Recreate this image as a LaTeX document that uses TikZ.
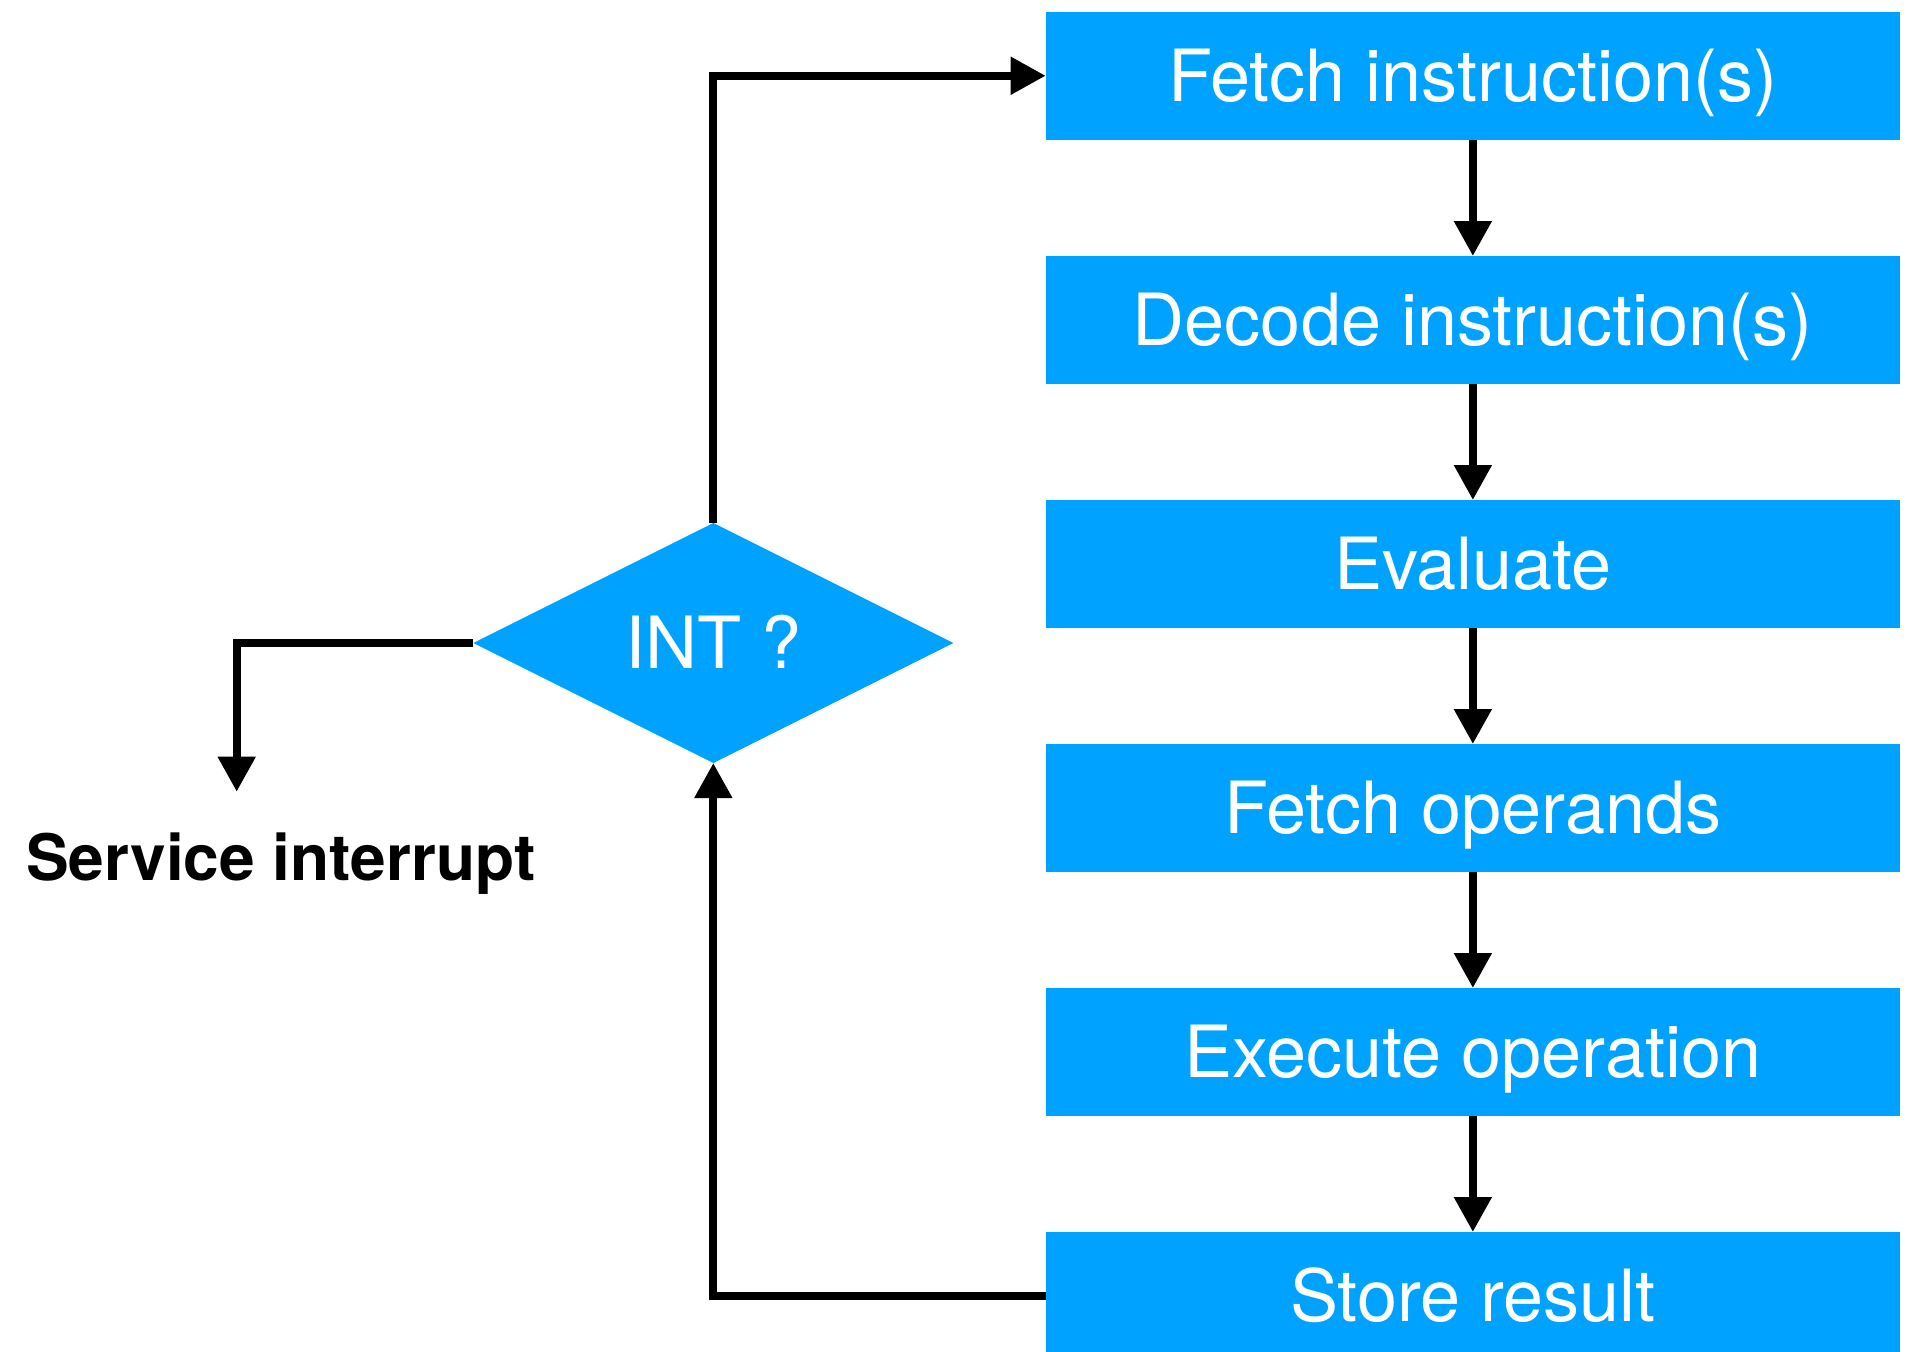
\documentclass[tikz,border=0pt]{standalone}
\usepackage{fontspec}
\setmainfont{TeX Gyre Heros}
\usetikzlibrary{shapes.geometric,arrows.meta}
\definecolor{boxblue}{HTML}{00A2FF}
\begin{document}
\begin{tikzpicture}[x=0.5pt,y=-0.5pt,
  stepbox/.style={rectangle, fill=boxblue, minimum width=427.15pt, minimum height=63.75pt,
    inner sep=0pt, outer sep=0pt, text=white, font=\fontsize{36}{40}\selectfont,
    text height=25.8pt, text depth=0pt},
  decision/.style={diamond, fill=boxblue, minimum width=240pt, minimum height=120pt,
    inner sep=0pt, outer sep=0pt, text=white, font=\fontsize{36}{40}\selectfont,
    text height=25.8pt, text depth=0pt},
  flow/.style={line width=4pt, line join=miter, -{Triangle[length=17.5pt,width=18pt]}},
  labeltext/.style={anchor=base west, inner sep=0pt, outer sep=0pt, text=black,
    font=\bfseries\fontsize{32}{36}\selectfont}
]
\useasboundingbox (0,0) rectangle (1909,1351);

\node[stepbox] (b1) at (1472.85,75.75)   {Fetch instruction(s)};
\node[stepbox] (b2) at (1472.85,319.75)  {Decode instruction(s)};
\node[stepbox] (b3) at (1472.85,563.75)  {Evaluate};
\node[stepbox] (b4) at (1472.85,807.75)  {Fetch operands};
\node[stepbox] (b5) at (1472.85,1051.75) {Execute operation};
\node[stepbox] (b6) at (1472.85,1295.75) {Store result};

\node[decision] (int) at (713.3,643) {INT ?};

\coordinate (svcend) at (236.7,791.7);
\node[labeltext] (svc) at (26,880) {Service interrupt};

\draw[flow] (b1) -- (b2);
\draw[flow] (b2) -- (b3);
\draw[flow] (b3) -- (b4);
\draw[flow] (b4) -- (b5);
\draw[flow] (b5) -- (b6);
\draw[flow] (int.north) |- (b1.west);
\draw[flow] (b6.west) -| (int.south);
\draw[flow] (int.west) -| (svcend);
\end{tikzpicture}
\end{document}
